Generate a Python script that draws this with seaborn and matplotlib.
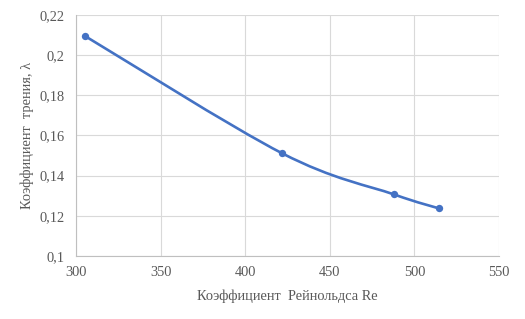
import numpy as np
import pandas as pd
import matplotlib
matplotlib.use("Agg")
import matplotlib.pyplot as plt
from matplotlib.path import Path
from matplotlib.patches import PathPatch
import seaborn as sns

re_values = [305.5, 422, 488, 514.4]
friction = [0.2093, 0.151, 0.1306, 0.1237]
x_ticks = [300, 350, 400, 450, 500, 550]
y_ticks = [0.10, 0.12, 0.14, 0.16, 0.18, 0.20, 0.22]
y_tick_labels = ["0,1", "0,12", "0,14", "0,16", "0,18", "0,2", "0,22"]
x_label = "Коэффициент  Рейнольдса Re"
y_label = "Коэффициент  трения, λ"

sns.set_theme(style="white")
plt.rcParams['font.family'] = ['Liberation Serif', 'DejaVu Serif']

df = pd.DataFrame({"Re": re_values, "lam": friction})

fig = plt.figure(figsize=(5.25, 3.19), dpi=100)
left, right, top, bottom = 76, 499, 14.7, 256
ax = fig.add_axes([left/525, 1-bottom/319, (right-left)/525, (bottom-top)/319])

color = "#4472C4"
# Excel-like smoothed line (Catmull-Rom -> Bezier) through the data points
pts = df[["Re", "lam"]].to_numpy()
verts = [tuple(pts[0])]
codes = [Path.MOVETO]
n = len(pts)
for i in range(n - 1):
    p0 = pts[i - 1] if i > 0 else pts[i]
    p1 = pts[i]
    p2 = pts[i + 1]
    p3 = pts[i + 2] if i + 2 < n else pts[i + 1]
    c1 = p1 + (p2 - p0) / 6
    c2 = p2 - (p3 - p1) / 6
    verts += [tuple(c1), tuple(c2), tuple(p2)]
    codes += [Path.CURVE4] * 3
ax.add_patch(PathPatch(Path(verts, codes), fill=False, edgecolor=color, lw=1.9,
                       capstyle="round", zorder=3))

sns.scatterplot(data=df, x="Re", y="lam", ax=ax, color=color, s=28,
                edgecolor=color, linewidth=0, zorder=4, legend=False)

ax.set_xlim(300, 550)
ax.set_ylim(0.10, 0.22)
ax.set_xticks(x_ticks)
ax.set_xticklabels([str(t) for t in x_ticks])
ax.set_yticks(y_ticks)
ax.set_yticklabels(y_tick_labels)

ax.grid(True, color="#d9d9d9", lw=0.8)
ax.set_axisbelow(True)
for side in ["top", "right"]:
    ax.spines[side].set_visible(False)
for side in ["left", "bottom"]:
    ax.spines[side].set_color("#bfbfbf")
    ax.spines[side].set_linewidth(0.8)

ax.tick_params(axis="both", length=0, labelsize=10.4, colors="#595959")
ax.tick_params(axis="x", pad=7)
ax.tick_params(axis="y", pad=8.5)
ax.set_xlabel(x_label, fontsize=10.4, color="#595959")
ax.set_ylabel(y_label, fontsize=10.4, color="#595959")
ax.xaxis.label.set_va("center")
ax.yaxis.label.set_va("center")
ax.xaxis.set_label_coords(((195+379)/2 - left)/(right-left), (bottom-296.7)/(bottom-top))
ax.yaxis.set_label_coords((27-left)/(right-left), 0.5)

fig.savefig("out.png", dpi=100)
